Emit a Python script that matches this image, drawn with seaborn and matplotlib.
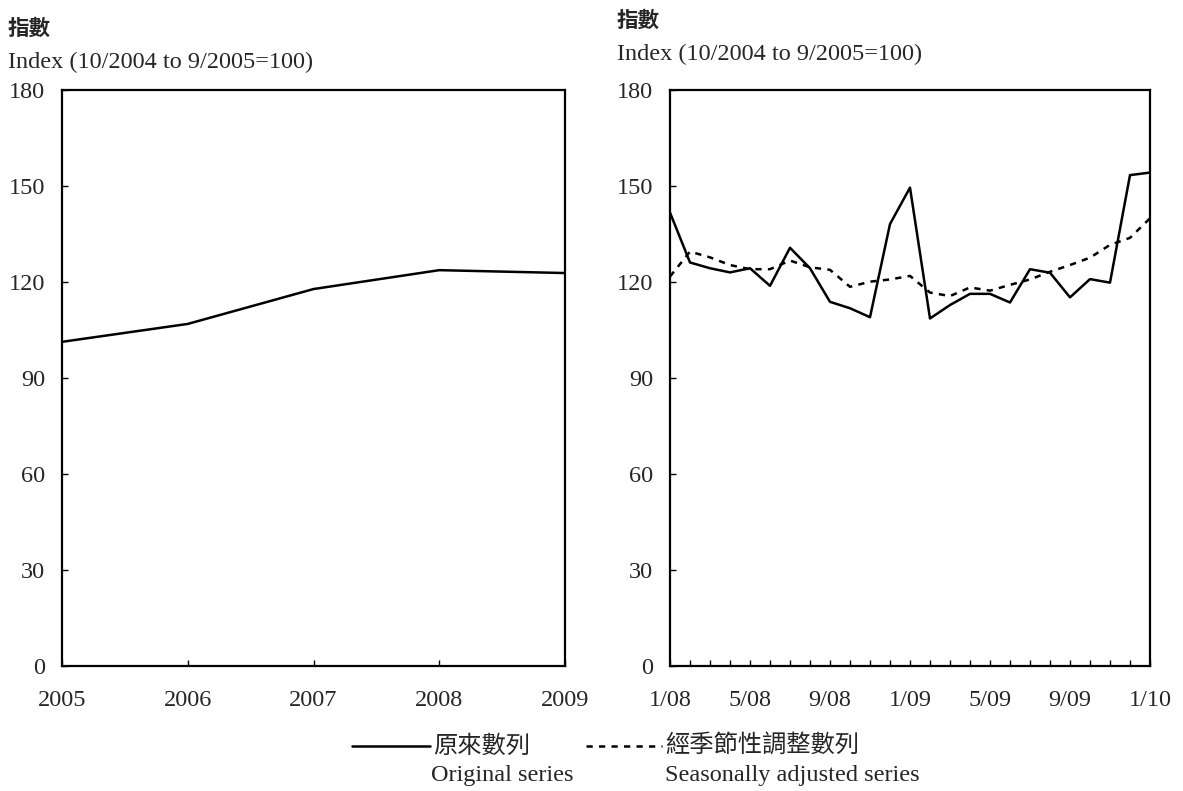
import matplotlib
matplotlib.use("Agg")
import matplotlib.pyplot as plt
from matplotlib.lines import Line2D
import seaborn as sns
import pandas as pd

# annual index (left panel)
years = [2005, 2006, 2007, 2008, 2009]
annual = [101.3, 106.9, 117.8, 123.7, 122.8]

# monthly index 1/08 - 1/10 (right panel)
month_labels = ["1/08", "5/08", "9/08", "1/09", "5/09", "9/09", "1/10"]
original = [141.7, 126.1, 124.3, 123.0, 124.3, 118.8, 130.7, 124.3, 113.8, 111.8, 109.0, 138.1, 149.5,
            108.6, 112.8, 116.3, 116.3, 113.6, 124.0, 122.9, 115.2, 120.9, 119.8, 153.4, 154.2]
adjusted = [121.7, 129.5, 127.7, 125.3, 124.0, 124.0, 126.7, 124.6, 123.8, 118.5, 120.1, 120.8, 121.9,
            116.7, 115.6, 118.3, 117.3, 119.1, 120.8, 123.2, 125.3, 127.6, 131.6, 133.8, 139.9]

sns.set_theme(style="white")
serif = ["Liberation Serif", "DejaVu Serif"]
cjk = ["Noto Sans CJK TC", "DejaVu Sans"]
plt.rcParams["font.family"] = serif
plt.rcParams["font.size"] = 17.5

df_y = pd.DataFrame({"year": years, "index": annual})
df_m = pd.DataFrame({"month": list(range(len(original))), "original": original, "adjusted": adjusted})

fig = plt.figure(figsize=(11.83, 7.91), dpi=100)
ax1 = fig.add_axes([62 / 1183, 1 - 666 / 791, 503 / 1183, 576 / 791])
ax2 = fig.add_axes([670 / 1183, 1 - 666 / 791, 480 / 1183, 576 / 791])

lw = 1.8
dash = (0, (2.5, 2.5))
sns.lineplot(data=df_y, x="year", y="index", ax=ax1, color="black", linewidth=lw)
sns.lineplot(data=df_m, x="month", y="original", ax=ax2, color="black", linewidth=lw)
sns.lineplot(data=df_m, x="month", y="adjusted", ax=ax2, color="black", linewidth=lw, linestyle=dash)

for ax in (ax1, ax2):
    ax.set_ylim(0, 180)
    ax.set_yticks(range(0, 181, 30))
    ax.set_xlabel("")
    ax.set_ylabel("")
    for s in ax.spines.values():
        s.set_linewidth(1.6)
        s.set_color("black")
    ax.tick_params(which="both", direction="in", length=4, width=1, color="black",
                   labelsize=17.5, bottom=True, left=True)
    ax.tick_params(axis="y", pad=12)
    ax.tick_params(axis="x", pad=17)

ax1.set_xlim(2005, 2009)
ax1.set_xticks(years)
ax1.set_xticklabels([str(y) for y in years])

ax2.set_xlim(0, 24)
ax2.set_xticks(range(0, 25, 4))
ax2.set_xticklabels(month_labels)
ax2.set_xticks(range(0, 25), minor=True)
ax2.tick_params(axis="x", which="minor", direction="in", length=4, width=1, color="black", bottom=True)

# axis headers
fig.text(8 / 1183, 1 - 28 / 791, "指數", family=cjk, fontsize=15.5, fontweight="bold", va="center")
fig.text(8 / 1183, 1 - 62 / 791, "Index (10/2004 to 9/2005=100)", family=serif, fontsize=17.5, va="center")
fig.text(617 / 1183, 1 - 20 / 791, "指數", family=cjk, fontsize=15.5, fontweight="bold", va="center")
fig.text(617 / 1183, 1 - 54 / 791, "Index (10/2004 to 9/2005=100)", family=serif, fontsize=17.5, va="center")

# legend
fig.add_artist(Line2D([352 / 1183, 430 / 1183], [1 - 746 / 791] * 2, color="black", linewidth=lw))
fig.text(433 / 1183, 1 - 746 / 791, "原來數列", family=cjk, fontsize=17.5, fontweight="medium", va="center")
fig.text(431 / 1183, 1 - 776 / 791, "Original series", family=serif, fontsize=17.5, va="center")
fig.add_artist(Line2D([586 / 1183, 662 / 1183], [1 - 746 / 791] * 2, color="black", linewidth=lw,
                      linestyle=dash))
fig.text(665 / 1183, 1 - 746 / 791, "經季節性調整數列", family=cjk, fontsize=17.5, fontweight="medium",
         va="center")
fig.text(665 / 1183, 1 - 776 / 791, "Seasonally adjusted series", family=serif, fontsize=17.5, va="center")

fig.savefig("out.png", dpi=100)
